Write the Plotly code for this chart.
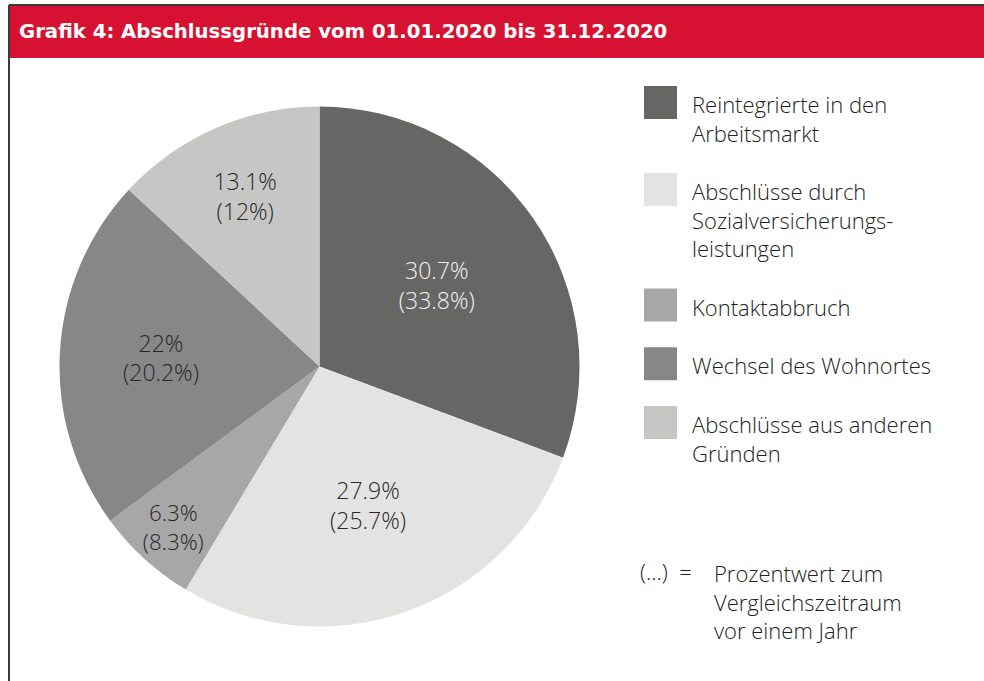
import plotly.graph_objects as go

# ---- data ----
categories = [
    "Reintegrierte in den<br>Arbeitsmarkt",
    "Abschlüsse durch<br>Sozialversicherungs-<br>leistungen",
    "Kontaktabbruch",
    "Wechsel des Wohnortes",
    "Abschlüsse aus anderen<br>Gründen",
]
share_2020 = [30.7, 27.9, 6.3, 22.0, 13.1]
share_prev = [33.8, 25.7, 8.3, 20.2, 12.0]
slice_colors = ["#666664", "#e3e3e2", "#a7a7a7", "#878787", "#c6c6c5"]
label_colors = ["#f2f2f2", "#262626", "#262626", "#262626", "#262626"]
title_text = "Grafik 4: Abschlussgründe vom 01.01.2020 bis 31.12.2020"
note_key = "(…)\u00a0\u00a0="
note_text = "Prozentwert zum<br>Vergleichszeitraum<br>vor einem Jahr"

W, H = 984, 681
FONT = "Open Sans"
WEIGHT = 300
TXT = "#222222"


def px(x):
    return x / W


def py(y):
    return 1 - y / H


def fmt(v):
    return f"{v:g}%"


slice_text = [f"{fmt(a)}<br>({fmt(b)})" for a, b in zip(share_2020, share_prev)]

fig = go.Figure(
    go.Pie(
        labels=[c.replace("<br>", " ") for c in categories],
        values=share_2020,
        text=slice_text,
        textinfo="text",
        textposition="inside",
        insidetextorientation="horizontal",
        textfont=dict(family=FONT, size=23, color=label_colors, weight=WEIGHT),
        sort=False,
        direction="clockwise",
        rotation=0,
        marker=dict(colors=slice_colors, line=dict(width=0)),
        showlegend=False,
        hoverinfo="label+value",
        domain=dict(x=[px(59.5), px(579.5)], y=[py(626.5), py(106.5)]),
    )
)

shapes = [
    # red header band
    dict(type="rect", xref="paper", yref="paper", x0=px(9), x1=1.0, y0=py(58), y1=py(5),
         fillcolor="#d71131", line=dict(width=0), layer="below"),
    # frame lines
    dict(type="line", xref="paper", yref="paper", x0=px(9), x1=1.0, y0=py(5), y1=py(5),
         line=dict(color="#3a3a3a", width=2)),
    dict(type="line", xref="paper", yref="paper", x0=px(9), x1=px(9), y0=py(5), y1=0,
         line=dict(color="#3a3a3a", width=2)),
]
annotations = []

top = 86
for name, col in zip(categories, slice_colors):
    shapes.append(dict(type="rect", xref="paper", yref="paper",
                       x0=px(644), x1=px(677), y0=py(top + 33), y1=py(top),
                       fillcolor=col, line=dict(width=0)))
    annotations.append(dict(text=name, xref="paper", yref="paper", x=px(690), y=py(top + 1),
                            xanchor="left", yanchor="top", align="left", showarrow=False,
                            font=dict(family=FONT, size=22, color=TXT, weight=WEIGHT)))
    nlines = name.count("<br>") + 1
    top += 28.3 * nlines + 30.5

annotations.append(dict(text=note_key, xref="paper", yref="paper", x=px(638), y=py(571),
                        xanchor="left", yanchor="middle", showarrow=False,
                        font=dict(family=FONT, size=22, color=TXT, weight=WEIGHT)))
annotations.append(dict(text=note_text, xref="paper", yref="paper", x=px(712), y=py(556),
                        xanchor="left", yanchor="top", align="left", showarrow=False,
                        font=dict(family=FONT, size=22, color=TXT, weight=WEIGHT)))

fig.update_layout(
    width=W,
    height=H,
    margin=dict(l=0, r=0, t=0, b=0),
    paper_bgcolor="white",
    plot_bgcolor="white",
    title=dict(text=f"<b>{title_text}</b>", x=px(19), xanchor="left", xref="paper",
               y=py(31), yanchor="middle", yref="paper",
               font=dict(family="DejaVu Sans", size=19.7, color="white")),
    shapes=shapes,
    annotations=annotations,
)

fig.write_html("out.html", config={"displayModeBar": False},
               post_script="document.body.style.margin='0';document.body.style.overflow='hidden';")
